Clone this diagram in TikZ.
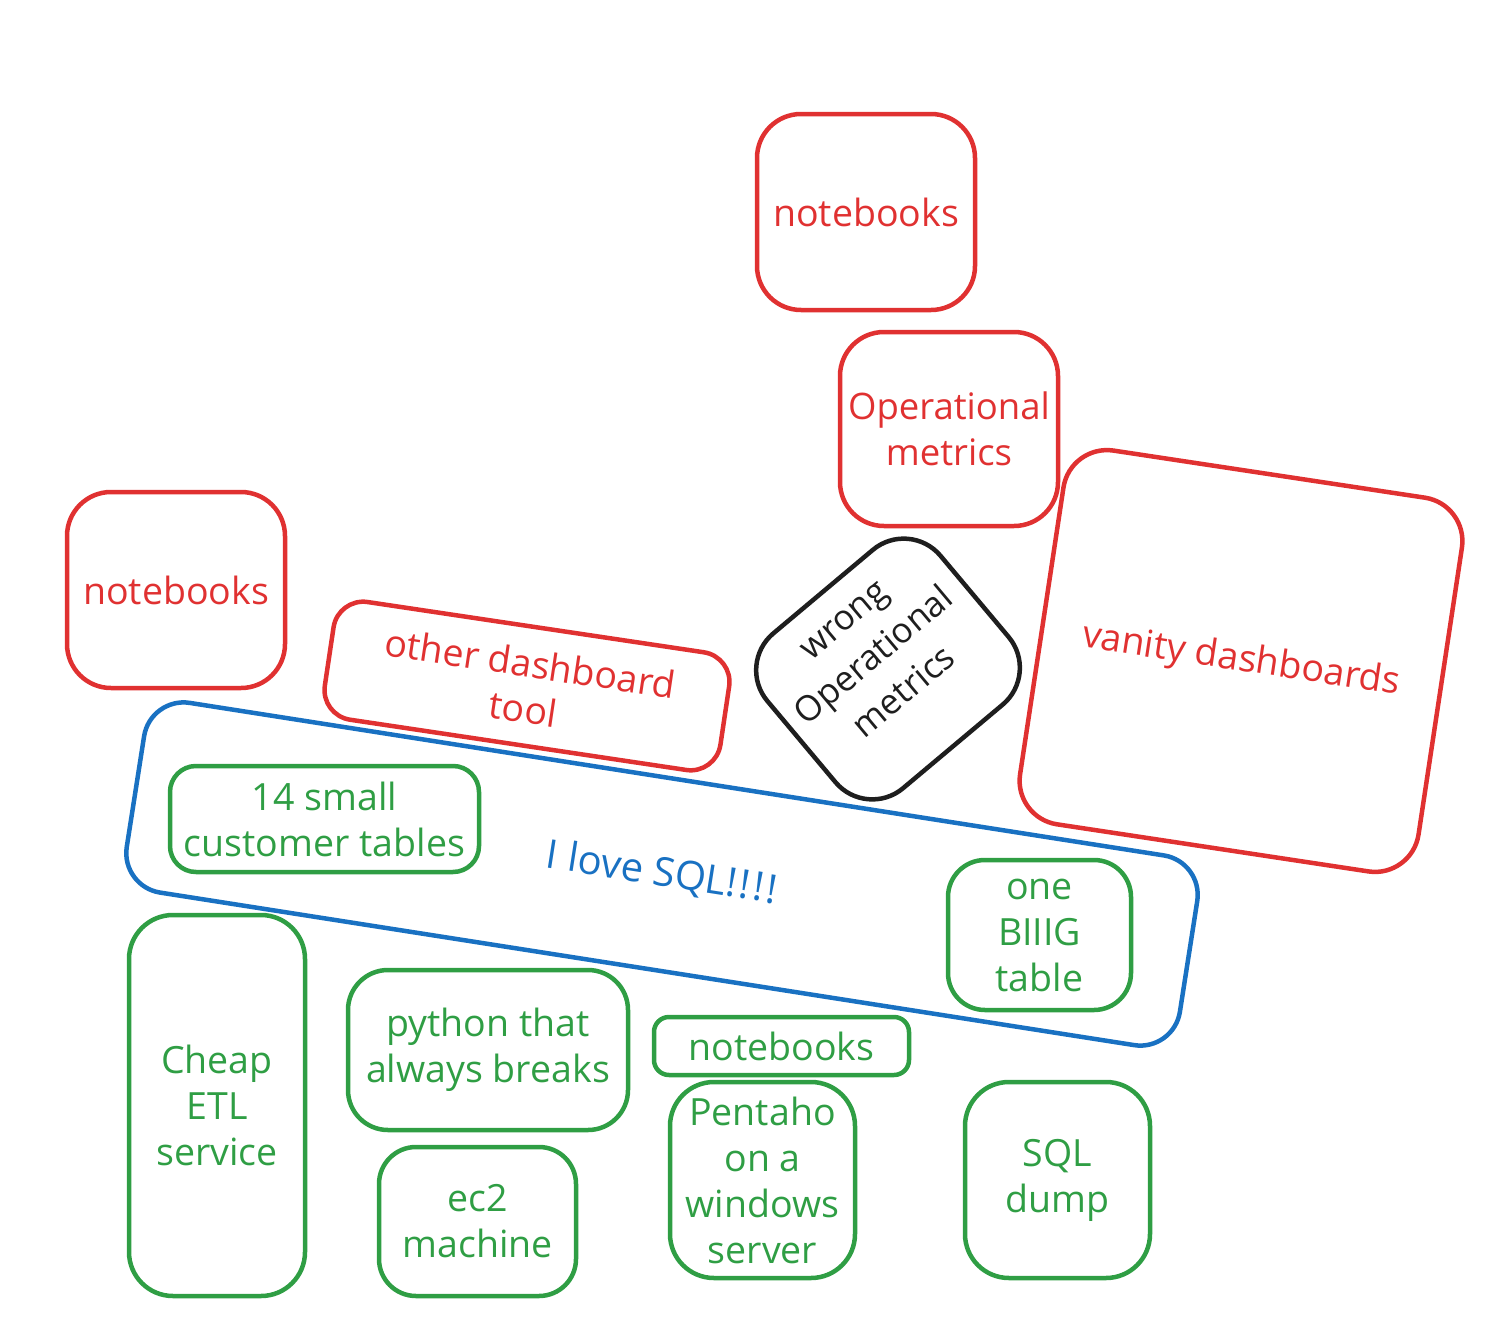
\documentclass[tikz,border=0pt]{standalone}
\usepackage{fontspec}
\setmainfont{Open Sans}
\definecolor{exred}{HTML}{E03131}
\definecolor{exgreen}{HTML}{2F9E44}
\definecolor{exblue}{HTML}{1971C2}
\definecolor{exblack}{HTML}{1E1E1E}
\begin{document}
\begin{tikzpicture}[x=1pt,y=-1pt,
  box/.style={draw, line width=4.5pt, inner sep=0pt, align=center, rounded corners=44pt,
    font=\fontsize{37.5}{46}\selectfont},
  redbox/.style={box, draw=exred, text=exred},
  greenbox/.style={box, draw=exgreen, text=exgreen},
  bluebox/.style={box, draw=exblue, text=exblue},
  blackbox/.style={box, draw=exblack},
  txt/.style={inner sep=0pt, align=center, font=\fontsize{35}{47}\selectfont}]
\useasboundingbox (0,0) rectangle (1500,1341);
% red
\node[redbox, minimum width=218pt, minimum height=196pt] (nbtop) at (866,212) {notebooks};
\node[redbox, minimum width=218pt, minimum height=194pt, font=\fontsize{36.5}{46}\selectfont] (opm) at (949,429) {Operational\\metrics};
\node[redbox, minimum width=403pt, minimum height=378pt, rotate=-8.6] (vanity) at (1241,661) {vanity dashboards};
\node[redbox, minimum width=218pt, minimum height=196pt] (nbleft) at (176,590) {notebooks};
\node[redbox, minimum width=400pt, minimum height=119pt, rounded corners=30pt, rotate=-8.5] (other) at (527,686) {other dashboard\\tool};
% black
\node[blackbox, minimum width=226pt, minimum height=202pt, rounded corners=48pt, rotate=40] (wrong) at (888,669) {};
\node[txt, text=exblack, rotate=40] (wrongtxt) at (875,657) {wrong\\Operational\\metrics};
% blue
\node[bluebox, minimum width=1066pt, minimum height=192pt, rounded corners=40pt, rotate=-8.9,
  font=\fontsize{40}{46}\selectfont] (sql) at (662,874) {I love SQL!\kern3pt!\kern3pt!\kern3pt!};
% green
\node[greenbox, minimum width=309pt, minimum height=106pt, rounded corners=26pt] (small) at (324.5,819) {14 small\\customer tables};
\node[greenbox, minimum width=183pt, minimum height=150pt, rounded corners=37pt] (big) at (1039.5,935) {one\\BIIIG\\table};
\node[greenbox, minimum width=176pt, minimum height=381pt] (etl) at (217,1105.5) {Cheap\\ETL\\service};
\node[greenbox, minimum width=280pt, minimum height=160pt, rounded corners=40pt] (python) at (488,1050) {python that\\always breaks};
\node[greenbox, minimum width=255pt, minimum height=58pt, rounded corners=15pt] (gnb) at (781.5,1046) {notebooks};
\node[greenbox, minimum width=197pt, minimum height=149pt, rounded corners=37pt] (ec2) at (477.5,1221.5) {ec2\\machine};
\node[greenbox, minimum width=185pt, minimum height=196pt] (pentaho) at (762.5,1180) {Pentaho\\on a\\windows\\server};
\node[greenbox, minimum width=185pt, minimum height=196pt] (dump) at (1057.5,1180) {SQL\\dump};
\end{tikzpicture}
\end{document}
